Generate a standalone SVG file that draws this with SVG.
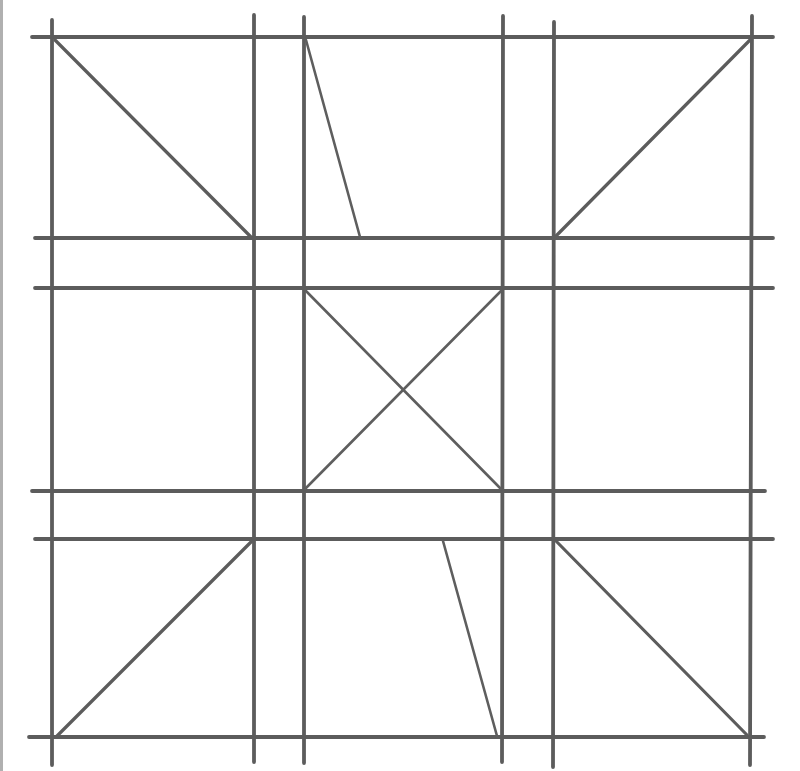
<svg xmlns="http://www.w3.org/2000/svg" width="800" height="771" viewBox="0 0 800 771">
<style>
.g{stroke:#5c5c5c;stroke-width:3.8;stroke-linecap:round;fill:none}
.d{stroke:#5c5c5c;stroke-width:3.2;stroke-linecap:round;fill:none}
.t{stroke:#5e5e5e;stroke-width:2.6;stroke-linecap:round;fill:none}
</style>
<rect width="800" height="771" fill="#ffffff"/>
<rect x="0" y="0" width="3" height="771" fill="#b0b0b0"/>
<g id="horizontals">
<line class="g" x1="32" y1="37" x2="773" y2="37"/>
<line class="g" x1="35" y1="238" x2="773" y2="238"/>
<line class="g" x1="35" y1="288" x2="773" y2="288"/>
<line class="g" x1="32" y1="491" x2="765" y2="491"/>
<line class="g" x1="35" y1="539" x2="773" y2="539"/>
<line class="g" x1="29" y1="737" x2="764" y2="737"/>
</g>
<g id="verticals">
<line class="g" x1="52" y1="20" x2="52" y2="765"/>
<line class="g" x1="254" y1="15" x2="254" y2="762"/>
<line class="g" x1="304" y1="17" x2="304" y2="763"/>
<line class="g" x1="503" y1="16" x2="502" y2="762"/>
<line class="g" x1="554" y1="22" x2="553" y2="767"/>
<line class="g" x1="752" y1="16" x2="750" y2="765"/>
</g>
<g id="connectors">
<line class="d" x1="55" y1="40" x2="251" y2="237"/>
<line class="t" x1="306" y1="40" x2="360" y2="237"/>
<line class="d" x1="750" y1="40" x2="555" y2="237"/>
<line class="t" x1="305" y1="290" x2="501" y2="489"/>
<line class="t" x1="501" y1="291" x2="305" y2="489"/>
<line class="d" x1="57" y1="736" x2="252" y2="541"/>
<line class="t" x1="443" y1="541" x2="497" y2="736"/>
<line class="d" x1="556" y1="541" x2="747" y2="735"/>
</g>
</svg>
